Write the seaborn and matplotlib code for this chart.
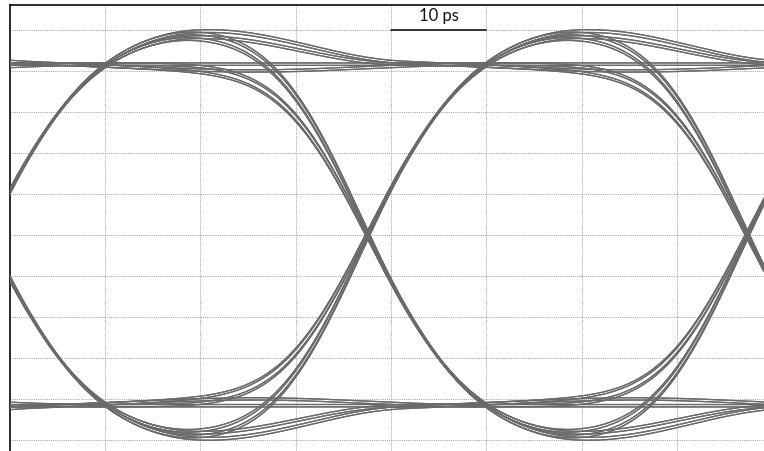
import math
import numpy as np
import pandas as pd
import matplotlib
matplotlib.use("Agg")
import matplotlib.pyplot as plt
import seaborn as sns

# Transmitted bit pattern (de Bruijn sequence of order 5, repeated)
bits = [0, 0, 0, 0, 0, 1, 0, 0, 0, 1, 1, 0, 0, 1, 0, 1,
        0, 0, 1, 1, 1, 0, 1, 0, 1, 1, 0, 1, 1, 1, 1, 1]

# Link / scope settings
unit_interval_ps = 39.8        # one bit period
first_crossing_ps = -2.3       # position of the crossing just left of the screen
time_span_ps = 79.1            # horizontal extent of the screen (10 ps / div)
level_div = 4.17               # settled logic level, in vertical divisions
edge_sigma_ui = 0.18           # edge smoothing (gaussian), in UI
overshoot = 0.08               # peaking after each edge (fraction of the swing)
overshoot_window_ui = [0.10, 0.55, 1.10]   # start, peak, end of the peaking
ringback = 0.02                # small undershoot after the peaking
ringback_window_ui = [1.10, 2.30]
sweep_gain = [1.006, 0.992]    # two acquisitions with slightly different swing


def edge_response(u):
    """Normalised step response (0 -> 1) of the channel, u in UI."""
    u = np.asarray(u, dtype=float)
    erf = np.frompyfunc(math.erf, 1, 1)
    base = 0.5 * (1.0 + erf(u / (edge_sigma_ui * math.sqrt(2.0))).astype(float))
    s0, pk, e0 = overshoot_window_ui
    bump = np.zeros_like(u)
    rise = (u >= s0) & (u < pk)
    fall = (u >= pk) & (u < e0)
    bump[rise] = np.sin(0.5 * np.pi * (u[rise] - s0) / (pk - s0)) ** 2
    bump[fall] = np.cos(0.5 * np.pi * (u[fall] - pk) / (e0 - pk)) ** 2
    r0, r1 = ringback_window_ui
    ring = np.zeros_like(u)
    rr = (u >= r0) & (u < r1)
    ring[rr] = np.sin(np.pi * (u[rr] - r0) / (r1 - r0)) ** 2
    return base + overshoot * bump - ringback * ring


def waveform(u, symbols):
    """Received signal (divisions) at times u (UI); crossing k sits at u = k."""
    out = np.full_like(u, symbols[0], dtype=float)
    for k in range(1, len(symbols)):
        d = symbols[k] - symbols[k - 1]
        if d:
            out += d * edge_response(u - k)
    return level_div * out


symbols = np.array([2 * b - 1 for b in bits * 3], dtype=float)
n_bits = len(bits)
t_local = np.linspace(0.0, time_span_ps, 500)

frames = []
trace_id = 0
for gain in sweep_gain:
    for k in range(n_bits, 2 * n_bits):
        u = k + (t_local - first_crossing_ps) / unit_interval_ps
        v = gain * waveform(u, symbols)
        frames.append(pd.DataFrame({"time_ps": t_local, "signal": v,
                                    "trace": trace_id}))
        trace_id += 1
eye = pd.concat(frames, ignore_index=True)

sns.set_style("white")
plt.rcParams["font.family"] = ["Lato", "DejaVu Sans"]

fig = plt.figure(figsize=(7.64, 4.52), dpi=100)
ax = fig.add_axes([9.5 / 764, 0.0, 1 - 9.5 / 764, 1 - 5.5 / 452])

sns.lineplot(data=eye, x="time_ps", y="signal", units="trace",
             estimator=None, sort=False, color="#6a6a6a", linewidth=0.9,
             ax=ax, zorder=3, legend=False)

ax.set_xlim(0, time_span_ps)
ax.set_ylim(-5.27, 5.62)
ax.set_xticks(np.arange(0, 80, 10))
ax.set_yticks(np.arange(-5, 6, 1))
ax.grid(True, color="#9c9c9c", linestyle=(0, (1, 1.2)), linewidth=0.7, zorder=0)
ax.tick_params(length=0, labelbottom=False, labelleft=False)
ax.set_xlabel("")
ax.set_ylabel("")
for side in ("right", "bottom"):
    ax.spines[side].set_visible(False)
for side in ("left", "top"):
    ax.spines[side].set_color("#1a1a1a")
    ax.spines[side].set_linewidth(1.3)

# 10 ps scale bar
ax.plot([40, 50], [5.0, 5.0], color="black", linewidth=1.1, zorder=4)
ax.text(45, 5.24, "10 ps", ha="center", va="baseline", fontsize=12,
        color="#111111", zorder=4)

fig.savefig("out.png", dpi=100)
